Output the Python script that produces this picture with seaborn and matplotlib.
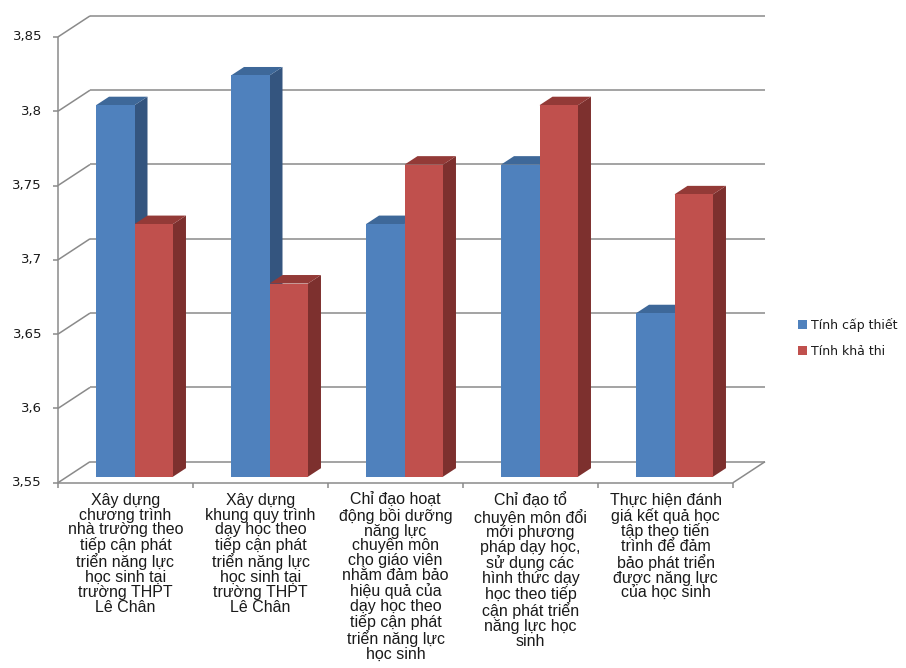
import matplotlib
matplotlib.use("Agg")
import matplotlib.pyplot as plt
from matplotlib.patches import Polygon, Patch
import pandas as pd
import seaborn as sns

# ---- data -------------------------------------------------------------
categories = [
    "Xây dựng\nchương trình\nnhà trường theo\ntiếp cận phát\ntriển năng lực\nhọc sinh tại\ntrường THPT\nLê Chân",
    "Xây dựng\nkhung quy trình\ndạy học theo\ntiếp cận phát\ntriển năng lực\nhọc sinh tại\ntrường THPT\nLê Chân",
    "Chỉ đạo hoạt\nđộng bồi dưỡng\nnăng lực\nchuyên môn\ncho giáo viên\nnhằm đảm bảo\nhiệu quả của\ndạy học theo\ntiếp cận phát\ntriển năng lực\nhọc sinh",
    "Chỉ đạo tổ\nchuyên môn đổi\nmới phương\npháp dạy học,\nsử dụng các\nhình thức dạy\nhọc theo tiếp\ncận phát triển\nnăng lực học\nsinh",
    "Thực hiện đánh\ngiá kết quả học\ntập theo tiến\ntrình để đảm\nbảo phát triển\nđược năng lực\ncủa học sinh",
]
series_names = ["Tính cấp thiết", "Tính khả thi"]
cap_thiet = [3.80, 3.82, 3.72, 3.76, 3.66]
kha_thi = [3.72, 3.68, 3.76, 3.80, 3.74]
y_ticks = [3.55, 3.60, 3.65, 3.70, 3.75, 3.80, 3.85]
y_tick_labels = ["3,55", "3,6", "3,65", "3,7", "3,75", "3,8", "3,85"]

# ---- styling ----------------------------------------------------------
FRONT = ["#4F81BD", "#C0504D"]
SIDE = ["#34557F", "#7D302E"]
TOP = ["#3E6899", "#933A37"]
GRID = "#8A8A8A"
TEXT = "#1A1A1A"

sns.set_theme(style="white")
plt.rcParams["font.family"] = ["DejaVu Sans"]

W, H = 906, 668
fig = plt.figure(figsize=(W / 100, H / 100), dpi=100, facecolor="white")

# axes = plane of the bars' front faces (pixel layout)
left_px, right_px = 67, 742
bottom_px, top_px = 476.7, 30.9
ax = fig.add_axes([left_px / W, 1 - bottom_px / H,
                   (right_px - left_px) / W, (bottom_px - top_px) / H])

df = pd.DataFrame({
    "cat": categories * 2,
    "series": [series_names[0]] * len(categories) + [series_names[1]] * len(categories),
    "value": cap_thiet + kha_thi,
})

sns.barplot(data=df, x="cat", y="value", hue="series", order=categories,
            hue_order=series_names, palette=FRONT, saturation=1, width=0.57,
            linewidth=0, edgecolor="none", legend=False, ax=ax, zorder=3)

ymin, ymax = y_ticks[0], y_ticks[-1]
ax.set_xlim(-0.5, len(categories) - 0.5)
ax.set_ylim(ymin, ymax)
ax.set_axis_off()

# pixel -> data conversion
px_x = (right_px - left_px) / len(categories)
px_y = (bottom_px - top_px) / (ymax - ymin)


def dxy(px, py):
    """pixel offset (x right, y up) -> data offset"""
    return px / px_x, py / px_y


front_off = dxy(-9, -6)   # front axis plane
back_off = dxy(23, 15)    # back wall plane
depth = dxy(13, 8.5)      # bar depth

x0, x1 = -0.5, len(categories) - 0.5
line_kw = dict(color=GRID, lw=1.1, clip_on=False, zorder=1, solid_capstyle="butt")

# back-wall gridlines and left-wall diagonals
for v, lab in zip(y_ticks, y_tick_labels):
    ax.plot([x0 + back_off[0], x1 + back_off[0]], [v + back_off[1]] * 2, **line_kw)
    ax.plot([x0 + front_off[0], x0 + back_off[0]],
            [v + front_off[1], v + back_off[1]], **line_kw)
    # tick mark to the left of the axis
    ax.plot([x0 + front_off[0] - 5 / px_x, x0 + front_off[0]],
            [v + front_off[1]] * 2, **line_kw)
    ax.annotate(lab, xy=(x0 + front_off[0], v + front_off[1]), xycoords="data",
                xytext=(-16, 0), textcoords="offset pixels",
                ha="right", va="center", fontsize=9.5, color=TEXT,
                family="DejaVu Sans", annotation_clip=False)

# vertical axis line, front floor edge and right floor diagonal
ax.plot([x0 + front_off[0]] * 2, [ymin + front_off[1], ymax + front_off[1]], **line_kw)
ax.plot([x0 + front_off[0], x1 + front_off[0]], [ymin + front_off[1]] * 2, **line_kw)
ax.plot([x1 + front_off[0], x1 + back_off[0]],
        [ymin + front_off[1], ymin + back_off[1]], **line_kw)

# category boundary ticks and labels
for i in range(len(categories) + 1):
    xb = -0.5 + i + front_off[0]
    ax.plot([xb, xb], [ymin + front_off[1], ymin + front_off[1] - 5 / px_y], **line_kw)
for i, lab in enumerate(categories):
    ax.annotate(lab, xy=(i + front_off[0], ymin + front_off[1]), xycoords="data",
                xytext=(0, -10), textcoords="offset pixels",
                ha="center", va="top", multialignment="center",
                fontsize=11.5, linespacing=0.99, color=TEXT,
                family="Liberation Sans", annotation_clip=False)

# 3-D side and top faces of each bar
n = len(categories)
for k, bar in enumerate(ax.patches[: 2 * n]):
    s = k // n
    bx, bw, bh = bar.get_x(), bar.get_width(), bar.get_height()
    xr = bx + bw
    side = Polygon([(xr, ymin), (xr + depth[0], ymin + depth[1]),
                    (xr + depth[0], bh + depth[1]), (xr, bh)],
                   closed=True, facecolor=SIDE[s], edgecolor="none",
                   zorder=2, clip_on=False)
    top = Polygon([(bx, bh), (bx + depth[0], bh + depth[1]),
                   (xr + depth[0], bh + depth[1]), (xr, bh)],
                  closed=True, facecolor=TOP[s], edgecolor="none",
                  zorder=2, clip_on=False)
    ax.add_patch(side)
    ax.add_patch(top)

# legend
handles = [Patch(facecolor=c, edgecolor="none") for c in FRONT]
fig.legend(handles, series_names, loc="upper left",
           bbox_to_anchor=(798 / W, 1 - 318 / H), frameon=False,
           handlelength=0.75, handleheight=0.75, handletextpad=0.3,
           labelspacing=1.05, borderpad=0, borderaxespad=0,
           prop={"family": "DejaVu Sans", "size": 9}, labelcolor=TEXT)

fig.savefig("out.png", dpi=100, facecolor="white")
